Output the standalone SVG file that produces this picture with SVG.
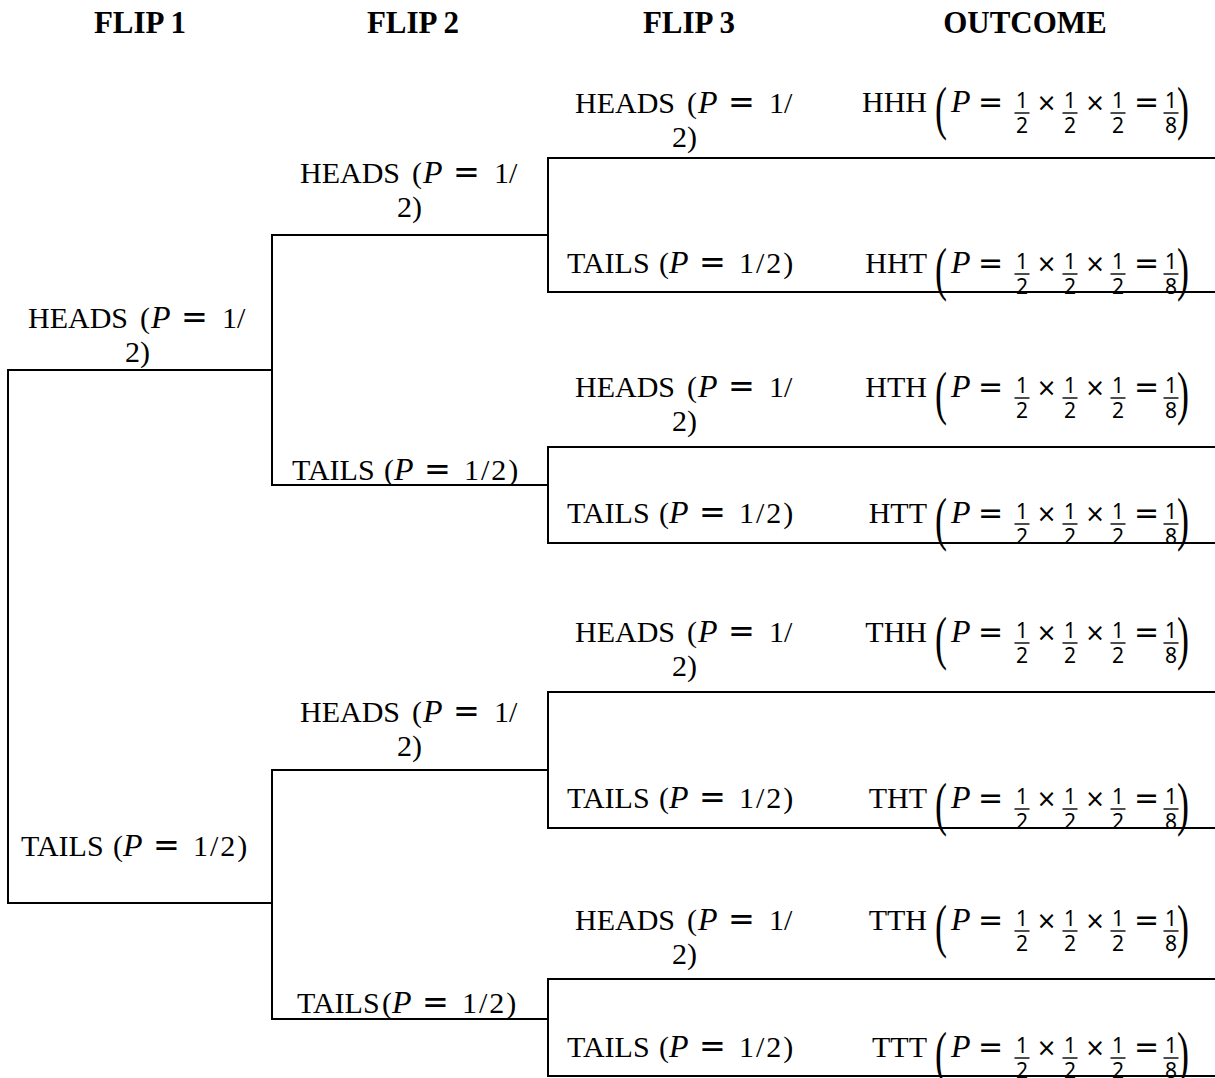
<svg xmlns="http://www.w3.org/2000/svg" xmlns:xlink="http://www.w3.org/1999/xlink" width="1215" height="1078" viewBox="0 0 1215 1078">
  <style>
    .t { font-family: "Liberation Serif", "Times New Roman", serif; font-size: 30px; fill: #000; }
    .i { font-style: italic; font-size: 32px; }
    .m { font-family: "DejaVu Sans", sans-serif; font-size: 32px; fill: #000; }
    .m2 { font-family: "DejaVu Sans", sans-serif; font-size: 30px; fill: #000; }
    .ls { letter-spacing: 2px; }
    .x { font-family: "DejaVu Sans", sans-serif; font-size: 24px; fill: #000; text-anchor: middle; }
    .f { font-family: "Noto Sans", "DejaVu Sans", sans-serif; font-size: 21px; fill: #000; text-anchor: middle; }
    .h { font-family: "Liberation Serif", "Times New Roman", serif; font-weight: bold; font-size: 31px; fill: #000; text-anchor: middle; }
    .bp { font-family: "Liberation Serif", "Times New Roman", serif; font-size: 60px; fill: #000; }
    .oc { text-anchor: end; }
    .ln { stroke: #000; stroke-width: 2; fill: none; stroke-linecap: square; }
    .fb { stroke: #000; stroke-width: 1.4; }
  </style>
  <defs>
    <!-- "HEADS (P = 1/ 2)" wrapped over two lines; origin = left of first line, on its baseline -->
    <g id="lblH">
      <text class="t"><tspan x="0" y="0">HEADS</tspan><tspan x="112">(</tspan><tspan class="i" x="123">P</tspan><tspan class="m" x="153">=</tspan><tspan x="194">1/</tspan><tspan x="97" y="34">2)</tspan></text>
    </g>
    <!-- "TAILS (P = 1/2)" on one line -->
    <g id="lblT">
      <text class="t"><tspan x="0" y="0">TAILS</tspan><tspan x="92">(</tspan><tspan class="i" x="102">P</tspan><tspan class="m" x="132">=</tspan><tspan class="ls" x="172">1/2)</tspan></text>
    </g>
    <!-- stacked fraction: numerator, bar, denominator -->
    <g id="half">
      <text class="f" x="0" y="-4">1</text>
      <line class="fb" x1="-7.5" y1="1" x2="7.5" y2="1"/>
      <text class="f" x="0" y="21">2</text>
    </g>
    <!-- probability product of one outcome row; origin on the row baseline -->
    <g id="fm">
      <text class="bp" transform="translate(935,15.5) scale(0.6,1)">(</text>
      <text class="t i" x="951" y="0">P</text>
      <text class="m2" x="978" y="0">=</text>
      <use xlink:href="#half" x="1022"/>
      <text class="x" x="1046.5" y="-1">×</text>
      <use xlink:href="#half" x="1070"/>
      <text class="x" x="1095" y="-1">×</text>
      <use xlink:href="#half" x="1118"/>
      <text class="m2" x="1134" y="0">=</text>
      <text class="f" x="1171" y="-4">1</text>
      <line class="fb" x1="1163.5" y1="1" x2="1178.5" y2="1"/>
      <text class="f" x="1171" y="21">8</text>
      <text class="bp" transform="translate(1177,15.5) scale(0.6,1)">)</text>
    </g>
  </defs>

  <rect width="1215" height="1078" fill="#fff"/>

  <!-- column headings -->
  <g id="headings">
    <text class="h" x="140" y="33">FLIP 1</text>
    <text class="h" x="413" y="33">FLIP 2</text>
    <text class="h" x="689" y="33">FLIP 3</text>
    <text class="h" x="1025" y="33">OUTCOME</text>
  </g>

  <!-- tree branches -->
  <g id="connectors">
    <!-- flip 1 -->
    <path class="ln" d="M272,370 H8 V903 H272"/>
    <!-- flip 2 -->
    <path class="ln" d="M548,235 H272 V485 H548"/>
    <path class="ln" d="M548,770 H272 V1019 H548"/>
    <!-- flip 3 -->
    <path class="ln" d="M1215,158 H548 V292 H1215"/>
    <path class="ln" d="M1215,447 H548 V543 H1215"/>
    <path class="ln" d="M1215,692 H548 V828 H1215"/>
    <path class="ln" d="M1215,979 H548 V1076 H1215"/>
  </g>

  <!-- flip 1 -->
  <g id="f1-heads"><use xlink:href="#lblH" x="28" y="328"/></g>
  <g id="f1-tails"><use xlink:href="#lblT" x="21" y="856"/></g>

  <!-- flip 2 -->
  <g id="f2-h-heads"><use xlink:href="#lblH" x="300" y="183"/></g>
  <g id="f2-h-tails"><use xlink:href="#lblT" x="292" y="480"/></g>
  <g id="f2-t-heads"><use xlink:href="#lblH" x="300" y="722"/></g>
  <g id="f2-t-tails">
    <text class="t"><tspan x="297" y="1013">TAILS</tspan><tspan x="382">(</tspan><tspan class="i" x="392">P</tspan><tspan class="m" x="422">=</tspan><tspan class="ls" x="462">1/2)</tspan></text>
  </g>

  <!-- flip 3 -->
  <g id="f3-hh-heads"><use xlink:href="#lblH" x="575" y="113"/></g>
  <g id="f3-hh-tails"><use xlink:href="#lblT" x="567" y="273"/></g>
  <g id="f3-ht-heads"><use xlink:href="#lblH" x="575" y="397"/></g>
  <g id="f3-ht-tails"><use xlink:href="#lblT" x="567" y="523"/></g>
  <g id="f3-th-heads"><use xlink:href="#lblH" x="575" y="642"/></g>
  <g id="f3-th-tails"><use xlink:href="#lblT" x="567" y="808"/></g>
  <g id="f3-tt-heads"><use xlink:href="#lblH" x="575" y="930"/></g>
  <g id="f3-tt-tails"><use xlink:href="#lblT" x="567" y="1057"/></g>

  <!-- outcomes -->
  <g id="out-hhh"><text class="t oc" x="927" y="112">HHH</text><use xlink:href="#fm" y="112"/></g>
  <g id="out-hht"><text class="t oc" x="927" y="273">HHT</text><use xlink:href="#fm" y="273"/></g>
  <g id="out-hth"><text class="t oc" x="927" y="397">HTH</text><use xlink:href="#fm" y="397"/></g>
  <g id="out-htt"><text class="t oc" x="927" y="523">HTT</text><use xlink:href="#fm" y="523"/></g>
  <g id="out-thh"><text class="t oc" x="927" y="642">THH</text><use xlink:href="#fm" y="642"/></g>
  <g id="out-tht"><text class="t oc" x="927" y="808">THT</text><use xlink:href="#fm" y="808"/></g>
  <g id="out-tth"><text class="t oc" x="927" y="930">TTH</text><use xlink:href="#fm" y="930"/></g>
  <g id="out-ttt"><text class="t oc" x="927" y="1057">TTT</text><use xlink:href="#fm" y="1057"/></g>
</svg>
